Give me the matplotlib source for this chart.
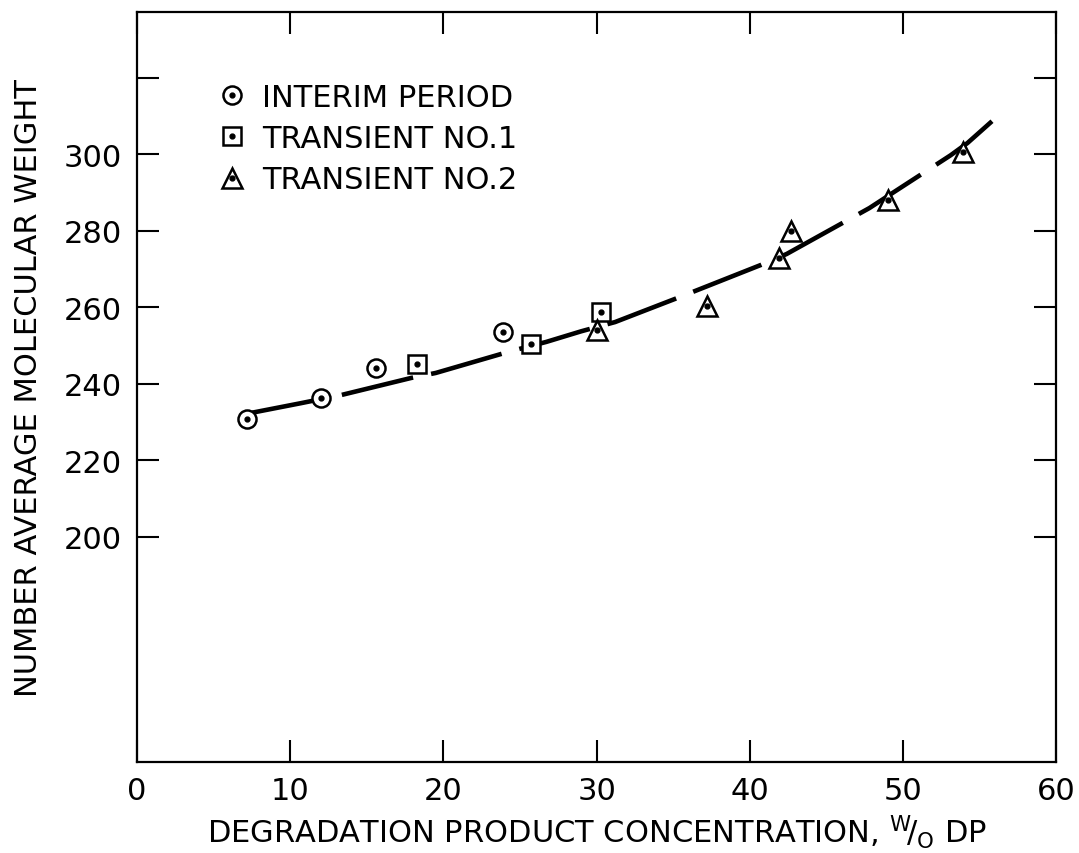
import matplotlib.pyplot as plt
from matplotlib.legend_handler import HandlerTuple

# measured points (w/o DP, Mn)
interim_x = [7.2, 12.0, 15.6, 23.9]
interim_y = [230.8, 236.2, 244.1, 253.5]
trans1_x = [18.3, 25.7, 30.3]
trans1_y = [245.1, 250.4, 258.7]
trans2_x = [30.0, 37.2, 41.9, 42.7, 49.0, 53.9]
trans2_y = [253.9, 260.2, 272.8, 279.8, 287.9, 300.5]

# hand-drawn curve
curve_x = [7.5, 10.7, 13.3, 17.9, 19.5, 24.4, 26.7, 29.0, 31.2, 35.4,
           40.7, 42.4, 47.8, 49.6, 53.1, 54.2, 55.8]
curve_y = [232.4, 234.9, 237.0, 241.5, 242.8, 248.5, 250.9, 253.7, 256.1, 262.6,
           271.0, 273.9, 285.9, 290.6, 299.7, 302.9, 308.6]

x_ticks = [0, 10, 20, 30, 40, 50, 60]
y_ticks = [200, 220, 240, 260, 280, 300, 320]
y_ticklabels = ["200", "220", "240", "260", "280", "300", ""]

plt.rcParams["font.family"] = ["DejaVu Sans"]
plt.rcParams["mathtext.default"] = "regular"

fig = plt.figure(figsize=(10.79, 8.54), dpi=100)
ax = fig.add_axes([0.127, 0.107, 0.852, 0.878])

ax.plot(curve_x, curve_y, color="black", lw=3.3, dashes=(16, 4),
        solid_capstyle="butt", zorder=2)

mk = dict(color="black", markerfacecolor="white", markeredgewidth=1.8,
          linestyle="none", zorder=3)
dot = dict(color="black", marker="o", markersize=3.5, linestyle="none", zorder=4)

h1, = ax.plot(interim_x, interim_y, marker="o", markersize=13, **mk)
d1, = ax.plot(interim_x, interim_y, **dot)
h2, = ax.plot(trans1_x, trans1_y, marker="s", markersize=13, **mk)
d2, = ax.plot(trans1_x, trans1_y, **dot)
h3, = ax.plot(trans2_x, trans2_y, marker="^", markersize=15, **mk)
d3, = ax.plot(trans2_x, trans2_y, **dot)

ax.legend([(h1, d1), (h2, d2), (h3, d3)],
          ["INTERIM PERIOD", "TRANSIENT NO.1", "TRANSIENT NO.2"],
          handler_map={tuple: HandlerTuple(ndivide=1)},
          loc="upper left", bbox_to_anchor=(0.058, 0.942), frameon=False,
          fontsize=22, handlelength=0.9, handletextpad=0.55, labelspacing=0.4,
          markerscale=1.0)

ax.set_xlim(0, 60)
ax.set_ylim(141.2, 337.2)
ax.set_xticks(x_ticks)
ax.set_yticks(y_ticks)
ax.set_yticklabels(y_ticklabels)
ax.tick_params(direction="in", length=16, width=1.5, labelsize=22, pad=10,
               top=True, right=True)
ax.tick_params(axis="y", pad=11)
for s in ax.spines.values():
    s.set_linewidth(1.6)

ax.set_xlabel(r"DEGRADATION PRODUCT CONCENTRATION, $^{W}\!/_{O}$ DP",
              fontsize=22, labelpad=6)
ax.set_ylabel("NUMBER AVERAGE MOLECULAR WEIGHT", fontsize=22, labelpad=15)

fig.savefig("out.png", dpi=100)
